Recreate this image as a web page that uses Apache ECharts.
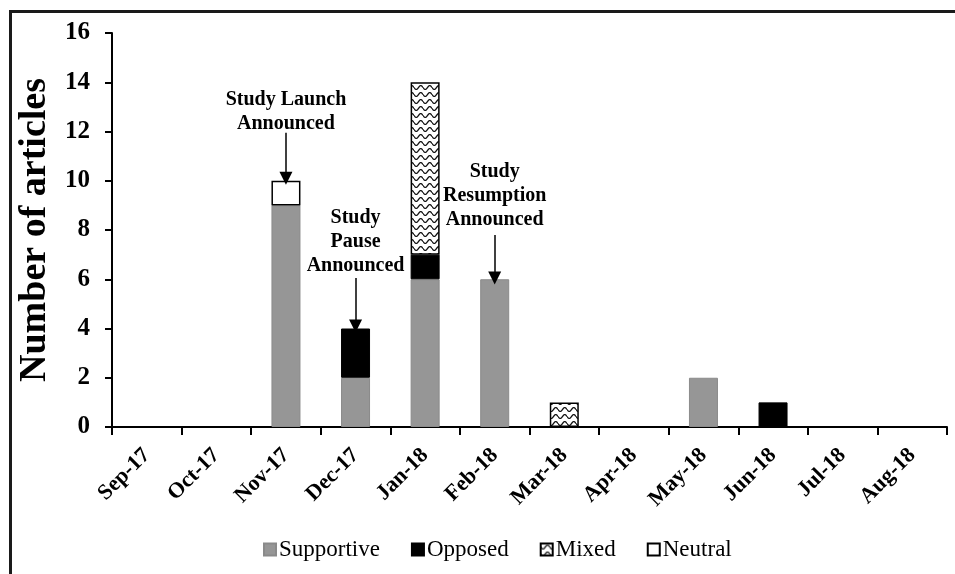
<!DOCTYPE html>
<html>
<head>
<meta charset="utf-8">
<script src="https://cdn.jsdelivr.net/npm/echarts@6/dist/echarts.min.js"></script>
<style>
  html, body { margin: 0; padding: 0; background: #fff; }
  #main { width: 955px; height: 574px; }
</style>
</head>
<body>
<div id="main"></div>
<script>
// months on the x axis
var months = ['Sep-17','Oct-17','Nov-17','Dec-17','Jan-18','Feb-18','Mar-18','Apr-18','May-18','Jun-18','Jul-18','Aug-18'];
// articles per month, by stance
var supportive = [0, 0, 9, 2, 6, 6, 0, 0, 2, 0, 0, 0];
var opposed    = [0, 0, 0, 2, 1, 0, 0, 0, 0, 1, 0, 0];
var mixed      = [0, 0, 0, 0, 7, 0, 1, 0, 0, 0, 0, 0];
var neutral    = [0, 0, 1, 0, 0, 0, 0, 0, 0, 0, 0, 0];
var yTicks = [0, 2, 4, 6, 8, 10, 12, 14, 16];
// event annotations: month, text centre (value), arrow start and tip (value)
var eventMonths = ['Nov-17', 'Dec-17', 'Feb-18'];
var eventText = ['Study Launch\nAnnounced', 'Study\nPause\nAnnounced', 'Study\nResumption\nAnnounced'];
var eventTextAt = [12.8, 7.5, 9.4];
var arrowFrom = [11.95, 6.05, 7.8];
var arrowTo = [10.1, 4.1, 6.05];

var serif = 'Liberation Serif, Times New Roman, serif';

// wavy hatch used for "Mixed"
function wavePattern() {
    var c = document.createElement('canvas');
    c.width = 9; c.height = 7;
    var ctx = c.getContext('2d');
    ctx.fillStyle = '#fff';
    ctx.fillRect(0, 0, 9, 7);
    ctx.strokeStyle = '#111';
    ctx.lineWidth = 1.3;
    ctx.beginPath();
    for (var x = 0; x <= 9; x += 0.5) {
        var y = 3.5 + 2 * Math.sin(2 * Math.PI * x / 9);
        if (x === 0) ctx.moveTo(x, y); else ctx.lineTo(x, y);
    }
    ctx.stroke();
    return c;
}

function nz(arr) {
    return arr.map(function (v) { return v === 0 ? null : v; });
}

var chart = echarts.init(document.getElementById('main'), null, { renderer: 'canvas' });

var marks = eventMonths.map(function (m, i) {
    return {
        coord: [m, eventTextAt[i]],
        value: eventText[i]
    };
});
var arrows = eventMonths.map(function (m, i) {
    return [{ coord: [m, arrowFrom[i]] }, { coord: [m, arrowTo[i]] }];
});

var barW = 29;

var option = {
    animation: false,
    backgroundColor: '#fff',
    textStyle: { fontFamily: serif },
    graphic: [{
        type: 'rect',
        left: 8, top: 9,
        shape: { width: 1000, height: 700 },
        style: { fill: 'none', stroke: '#1a1a1a', lineWidth: 3 },
        silent: true
    }],
    legend: {
        bottom: 8,
        left: 258,
        icon: 'rect',
        itemWidth: 12,
        itemHeight: 12,
        itemGap: 31,
        textStyle: { fontFamily: serif, fontSize: 23, color: '#000', padding: [0, 0, 0, -2] },
        data: ['Supportive', 'Opposed', 'Mixed', 'Neutral']
    },
    grid: { left: 112, right: 8, top: 33, bottom: 147 },
    xAxis: {
        type: 'category',
        data: months,
        axisLine: { lineStyle: { color: '#000', width: 2 } },
        axisTick: { show: true, length: 8, lineStyle: { color: '#000', width: 2 } },
        axisLabel: {
            rotate: 45, margin: 25,
            fontFamily: serif, fontWeight: 'bold', fontSize: 22, color: '#000'
        }
    },
    yAxis: {
        type: 'value',
        min: 0, max: 16, interval: 2,
        name: 'Number of articles',
        nameLocation: 'middle',
        nameGap: 52,
        nameTextStyle: { fontFamily: serif, fontWeight: 'bold', fontSize: 38, color: '#000' },
        splitLine: { show: false },
        axisLine: { show: true, lineStyle: { color: '#000', width: 2 } },
        axisTick: { show: true, length: 7, lineStyle: { color: '#000', width: 2 } },
        axisLabel: {
            margin: 22,
            fontFamily: serif, fontWeight: 'bold', fontSize: 25, color: '#000',
            formatter: function (v) { return yTicks.indexOf(v) >= 0 ? v : ''; }
        }
    },
    series: [
        {
            name: 'Supportive', type: 'bar', stack: 'all', barWidth: barW,
            data: nz(supportive),
            itemStyle: { color: '#969696', borderColor: '#8a8a8a', borderWidth: 1 },
            markPoint: {
                symbol: 'circle', symbolSize: 0,
                label: {
                    show: true, position: 'inside',
                    fontFamily: serif, fontWeight: 'bold', fontSize: 20,
                    color: '#000', lineHeight: 24, align: 'center',
                    formatter: function (p) { return p.value; }
                },
                data: marks
            },
            markLine: {
                silent: true,
                symbol: ['none', 'triangle'],
                symbolSize: [13, 13],
                label: { show: false },
                lineStyle: { color: '#000', width: 1.5, type: 'solid' },
                data: arrows
            }
        },
        {
            name: 'Opposed', type: 'bar', stack: 'all', barWidth: barW,
            data: nz(opposed),
            itemStyle: { color: '#000', borderColor: '#000', borderWidth: 1 }
        },
        {
            name: 'Mixed', type: 'bar', stack: 'all', barWidth: barW,
            data: nz(mixed),
            itemStyle: { color: { image: wavePattern(), repeat: 'repeat' }, borderColor: '#000', borderWidth: 1.5 }
        },
        {
            name: 'Neutral', type: 'bar', stack: 'all', barWidth: barW,
            data: nz(neutral),
            itemStyle: { color: '#fff', borderColor: '#000', borderWidth: 1.5 }
        }
    ]
};

chart.setOption(option);
</script>
</body>
</html>
